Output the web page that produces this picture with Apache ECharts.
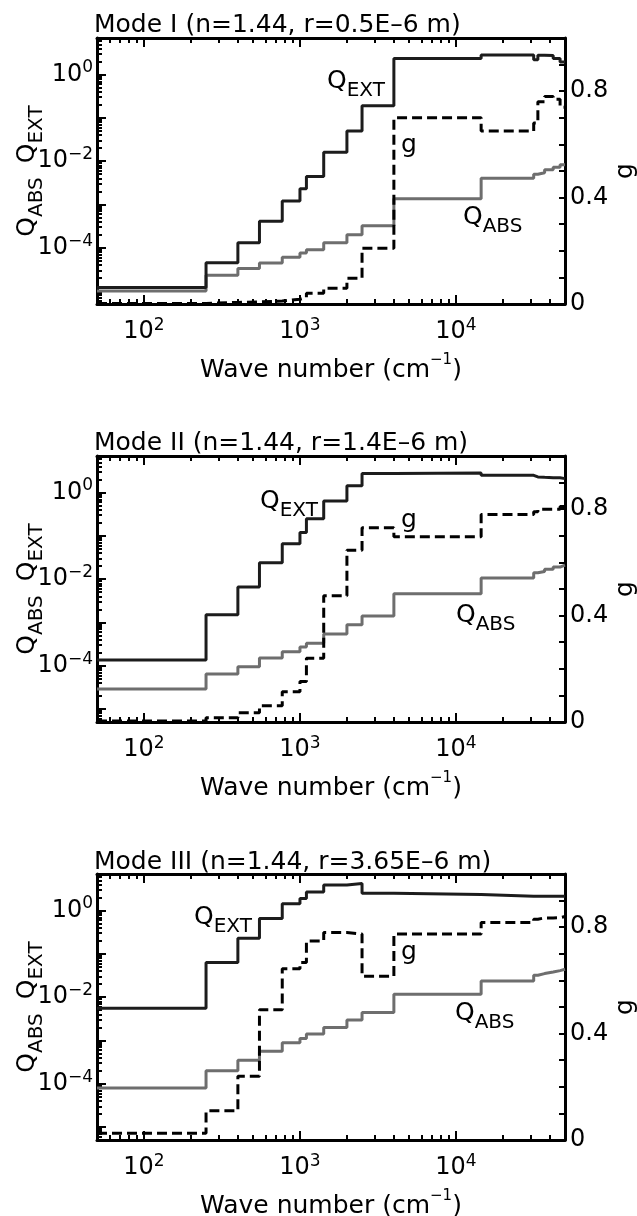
<!DOCTYPE html>
<html lang="en">
<head>
<meta charset="UTF-8">
<title>Q_EXT, Q_ABS and g for three modes</title>
<script src="https://cdn.jsdelivr.net/npm/echarts@6/dist/echarts.min.js"></script>
<style>body{margin:0;background:#fff}</style>
</head>
<body>
<div id="container" style="width:637px;height:1216px"></div>
<script>
// band start (cm-1); the last band runs to waveEnd
var wave = [50, 250, 400, 550, 770, 1000, 1100, 1420, 2000, 2500, 4000, 14500, 31500, 33500, 37000, 42000, 46500];
var waveMin = 50;
var waveEnd = 50000;

var titles = ['Mode I (n=1.44, r=0.5E\u20136 m)', 'Mode II (n=1.44, r=1.4E\u20136 m)', 'Mode III (n=1.44, r=3.65E\u20136 m)'];

// Mode I
var qext1 = [1.2e-5, 4.5e-5, 1.3e-4, 4.1e-4, 1.2e-3, 2.3e-3, 4.4e-3, 0.016, 0.05, 0.19, 2.35, 2.85, 2.2, 2.8, 2.75, 2.35, 1.96];
var qabs1 = [1.0e-5, 2.3e-5, 3.3e-5, 4.4e-5, 6.0e-5, 7.5e-5, 9.0e-5, 1.3e-4, 2.0e-4, 3.2e-4, 1.35e-3, 4.0e-3, 5.0e-3, 5.4e-3, 6.3e-3, 7.2e-3, 8.3e-3];
var g1 = [0.002, 0.006, 0.008, 0.011, 0.018, 0.025, 0.040, 0.059, 0.097, 0.21, 0.70, 0.65, 0.68, 0.76, 0.78, 0.77, 0.74];
// Mode II
var qext2 = [1.35e-4, 1.5e-3, 6.6e-3, 0.024, 0.066, 0.12, 0.25, 0.64, 1.43, 2.75, 2.85, 2.5, 2.3, 2.25, 2.2, 2.2, 2.1];
var qabs2 = [2.9e-5, 6.4e-5, 9.5e-5, 1.5e-4, 2.1e-4, 2.7e-4, 3.3e-4, 5.4e-4, 8.8e-4, 1.4e-3, 4.6e-3, 0.0106, 0.014, 0.015, 0.017, 0.019, 0.021];
var g2 = [0.004, 0.016, 0.035, 0.061, 0.114, 0.152, 0.24, 0.475, 0.646, 0.73, 0.696, 0.78, 0.79, 0.80, 0.80, 0.80, 0.81];
// Mode III
var qext3 = [5.5e-3, 0.063, 0.23, 0.66, 1.43, 1.9, 2.7, 3.9, 4.2, 2.5, 2.35, 2.15, 2.15, 2.15, 2.15, 2.15, 2.15];
var qabs3 = [8.0e-5, 2.0e-4, 3.5e-4, 5.6e-4, 8.8e-4, 1.1e-3, 1.4e-3, 2.0e-3, 2.95e-3, 4.4e-3, 0.0117, 0.0237, 0.032, 0.035, 0.038, 0.041, 0.044];
var g3 = [0.025, 0.11, 0.24, 0.49, 0.644, 0.667, 0.748, 0.78, 0.774, 0.616, 0.774, 0.818, 0.83, 0.835, 0.835, 0.836, 0.84];

var qext = [qext1, qext2, qext3];
var qabs = [qabs1, qabs2, qabs3];
var gval = [g1, g2, g3];

// ticks
var xMajorTicks = [100, 1000, 10000];
var yMajorTicks = [1e-5, 1e-4, 1e-3, 1e-2, 1e-1, 1];
var yLabelTicks = [1e-4, 1e-2, 1];
var gLabelTicks = [0, 0.4, 0.8];
var mantissa = [2, 3, 4, 5, 6, 7, 8, 9];
var qMin = 5e-6, qMax = 7;

function minorTicks(lo, hi, e0, e1) {
  var out = [];
  for (var e = e0; e <= e1; e++) {
    mantissa.forEach(function (m) {
      var v = +(m * Math.pow(10, e)).toPrecision(6);
      if (v > lo && v < hi) out.push(v);
    });
  }
  return out;
}
var xMinorTicks = minorTicks(waveMin, waveEnd, 1, 4);
var yMinorTicks = minorTicks(qMin, qMax, -6, 0);

// layout
var FONT = 'DejaVu Sans';
var frameLeft = 97, frameW = 468, frameH = 266;
var frameTop = [38, 456, 874];
var titleTop = [13, 431, 850];
var extLabel = [[327, 62], [260, 482], [194, 898]];
var gLabel = [[401, 145], [401, 520], [401, 952]];
var absLabel = [[463, 198], [456, 596], [455, 994]];

var cExt = '#1c1c1c', cAbs = '#6e6e6e', cG = '#000';

function steps(vals) {
  var pts = wave.map(function (w, i) { return [w, vals[i]]; });
  pts.push([waveEnd, vals[vals.length - 1]]);
  return pts;
}

function expLabel(v) {
  var e = Math.round(Math.log10(v));
  return '{b|10}{e|' + (e < 0 ? '\u2212' + (-e) : e) + '}';
}
var expRich = {
  b: {fontFamily: FONT, fontSize: 24, lineHeight: 30, color: '#000'},
  e: {fontFamily: FONT, fontSize: 17, lineHeight: 16, verticalAlign: 'top', color: '#000'}
};
var qRich = function (col) {
  return {
    q: {fontFamily: FONT, fontSize: 25, lineHeight: 39, color: col},
    s: {fontFamily: FONT, fontSize: 20, lineHeight: 18, verticalAlign: 'bottom', color: col},
    sp: {fontFamily: FONT, fontSize: 25, width: 14}
  };
};

var tickStyle = {color: '#000', width: 2};
var xAxes = [], yAxes = [], series = [], grids = [], titleList = [], graphics = [];

for (var i = 0; i < 3; i++) {
  grids.push({left: frameLeft, top: frameTop[i], width: frameW, height: frameH, containLabel: false, outerBoundsMode: 'none'});
  titleList.push({
    text: titles[i], left: 94, top: titleTop[i], padding: 0,
    textStyle: {fontFamily: FONT, fontSize: 25, fontWeight: 'normal', color: '#000'}
  });

  ['bottom', 'top'].forEach(function (pos) {
    xAxes.push({
      gridIndex: i, type: 'log', logBase: 10, min: waveMin, max: waveEnd, position: pos,
      axisLine: {show: true, onZero: false, lineStyle: {color: '#000', width: 3}},
      axisTick: {show: true, inside: true, length: 9, customValues: xMajorTicks, lineStyle: tickStyle},
      axisLabel: pos === 'bottom'
        ? {show: true, customValues: xMajorTicks, formatter: expLabel, rich: expRich, margin: 13}
        : {show: false},
      splitLine: {show: false},
      name: pos === 'bottom' ? '{n|Wave number (cm}{u|\u22121}{n|)}' : '',
      nameLocation: 'middle', nameGap: 49, nameMoveOverlap: false,
      nameTextStyle: {
        rich: {
          n: {fontFamily: FONT, fontSize: 25, lineHeight: 34, color: '#000'},
          u: {fontFamily: FONT, fontSize: 15, lineHeight: 16, verticalAlign: 'top', color: '#000'}
        }
      }
    });
    xAxes.push({
      gridIndex: i, type: 'log', logBase: 10, min: waveMin, max: waveEnd, position: pos,
      axisLine: {show: false, onZero: false},
      axisTick: {show: true, inside: true, length: 5, customValues: xMinorTicks, lineStyle: tickStyle},
      axisLabel: {show: false},
      splitLine: {show: false}
    });
  });

  // left log axis, major + minor ticks
  yAxes.push({
    gridIndex: i, type: 'log', logBase: 10, min: qMin, max: qMax, position: 'left',
    axisLine: {show: true, onZero: false, lineStyle: {color: '#000', width: 3}},
    axisTick: {show: true, inside: true, length: 9, customValues: yMajorTicks, lineStyle: tickStyle},
    axisLabel: {show: true, customValues: yLabelTicks, formatter: expLabel, rich: expRich, margin: 4},
    splitLine: {show: false},
    name: '{q|Q}{s|ABS}{sp| }{q|Q}{s|EXT}',
    nameLocation: 'middle', nameRotate: 90, nameGap: 50, nameMoveOverlap: false,
    nameTextStyle: {rich: qRich('#000')}
  });
  yAxes.push({
    gridIndex: i, type: 'log', logBase: 10, min: qMin, max: qMax, position: 'left',
    axisLine: {show: false, onZero: false},
    axisTick: {show: true, inside: true, length: 5, customValues: yMinorTicks, lineStyle: tickStyle},
    axisLabel: {show: false},
    splitLine: {show: false}
  });
  // right g axis
  yAxes.push({
    gridIndex: i, type: 'value', min: 0, max: 1, interval: 0.1, position: 'right',
    axisLine: {show: true, onZero: false, lineStyle: {color: '#000', width: 3}},
    axisTick: {show: true, inside: true, length: 6, lineStyle: tickStyle},
    axisLabel: {
      show: true, customValues: gLabelTicks, margin: 5,
      fontFamily: FONT, fontSize: 24, color: '#000',
      formatter: function (v) { return String(+v.toFixed(1)); }
    },
    splitLine: {show: false},
    name: 'g', nameLocation: 'middle', nameRotate: 90, nameGap: 48, nameMoveOverlap: false,
    nameTextStyle: {fontFamily: FONT, fontSize: 25, color: '#000'}
  });

  var xi = 4 * i, yi = 3 * i;
  series.push({
    type: 'line', step: 'end', symbol: 'none', xAxisIndex: xi, yAxisIndex: yi,
    data: steps(qabs[i]), lineStyle: {color: cAbs, width: 3}, z: 3
  });
  series.push({
    type: 'line', step: 'end', symbol: 'none', xAxisIndex: xi, yAxisIndex: yi,
    data: steps(qext[i]), lineStyle: {color: cExt, width: 3}, z: 4
  });
  series.push({
    type: 'line', step: 'end', symbol: 'none', xAxisIndex: xi, yAxisIndex: yi + 2,
    data: steps(gval[i]), lineStyle: {color: cG, width: 3, type: [10, 5]}, z: 5
  });

  graphics.push({
    type: 'text', x: extLabel[i][0], y: extLabel[i][1],
    style: {text: '{q|Q}{s|EXT}', rich: qRich(cExt), verticalAlign: 'top'}
  });
  graphics.push({
    type: 'text', x: absLabel[i][0], y: absLabel[i][1],
    style: {text: '{q|Q}{s|ABS}', rich: qRich(cAbs), verticalAlign: 'top'}
  });
  graphics.push({
    type: 'text', x: gLabel[i][0], y: gLabel[i][1],
    style: {text: 'g', fontFamily: FONT, fontSize: 25, fill: cG, verticalAlign: 'middle'}
  });
}

var myChart = echarts.init(document.getElementById('container'));
myChart.setOption({
  animation: false,
  backgroundColor: '#fff',
  title: titleList,
  grid: grids,
  xAxis: xAxes,
  yAxis: yAxes,
  series: series,
  graphic: graphics
});
</script>
</body>
</html>
